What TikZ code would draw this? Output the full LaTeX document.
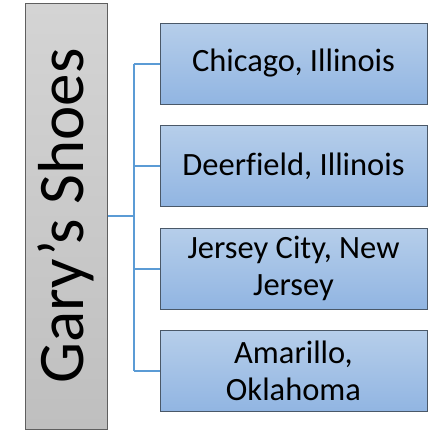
\documentclass[tikz,border=0pt]{standalone}
\usepackage{fontspec}
\setmainfont{Carlito}[Ligatures=NoCommon]
\usetikzlibrary{positioning}
\definecolor{grayTop}{HTML}{D4D4D4}
\definecolor{grayBot}{HTML}{BFBFBF}
\definecolor{frameGray}{HTML}{5F5F5F}
\definecolor{cityTop}{HTML}{B6CEEA}
\definecolor{cityBot}{HTML}{91B5E2}
\definecolor{frameBlue}{HTML}{4A5868}
\definecolor{linkBlue}{HTML}{5B9BD5}
\begin{document}
\begin{tikzpicture}[x=1pt,y=-1pt,
  company/.style={draw=frameGray,line width=1pt,top color=grayTop,bottom color=grayBot,
    minimum width=82pt,minimum height=426pt,inner sep=0pt,font=\fontsize{65}{70}\selectfont},
  city/.style={draw=frameBlue,line width=1pt,top color=cityTop,bottom color=cityBot,
    minimum width=267pt,minimum height=81pt,inner sep=0pt,align=center,
    font=\fontsize{32.5}{37}\selectfont},
  link/.style={draw=linkBlue,line width=2pt}]
\useasboundingbox (0,0) rectangle (430,432);
% left: the company, text turned upwards
\node[company] (shoes) at (66,216) {\rotatebox{90}{Gary’s Shoes}};
% right: the four locations
\node[city] (chicago) at (293.5,63.5) {Chicago, Illinois};
\node[city,below=20.5pt of chicago] (deerfield) {Deerfield, Illinois};
\node[city,below=20.5pt of deerfield] (jersey) {Jersey City, New\\Jersey};
\node[city,below=20.5pt of jersey] (amarillo) {Amarillo,\\Oklahoma};
% connectors
\coordinate (trunk) at (133.5,216);
\draw[link] (shoes.east) -- (trunk);
\draw[link] (trunk |- chicago.west) -- (trunk |- amarillo.west);
\foreach \c in {chicago,deerfield,jersey,amarillo} {\draw[link] (trunk |- \c.west) -- (\c.west);}
\end{tikzpicture}
\end{document}
